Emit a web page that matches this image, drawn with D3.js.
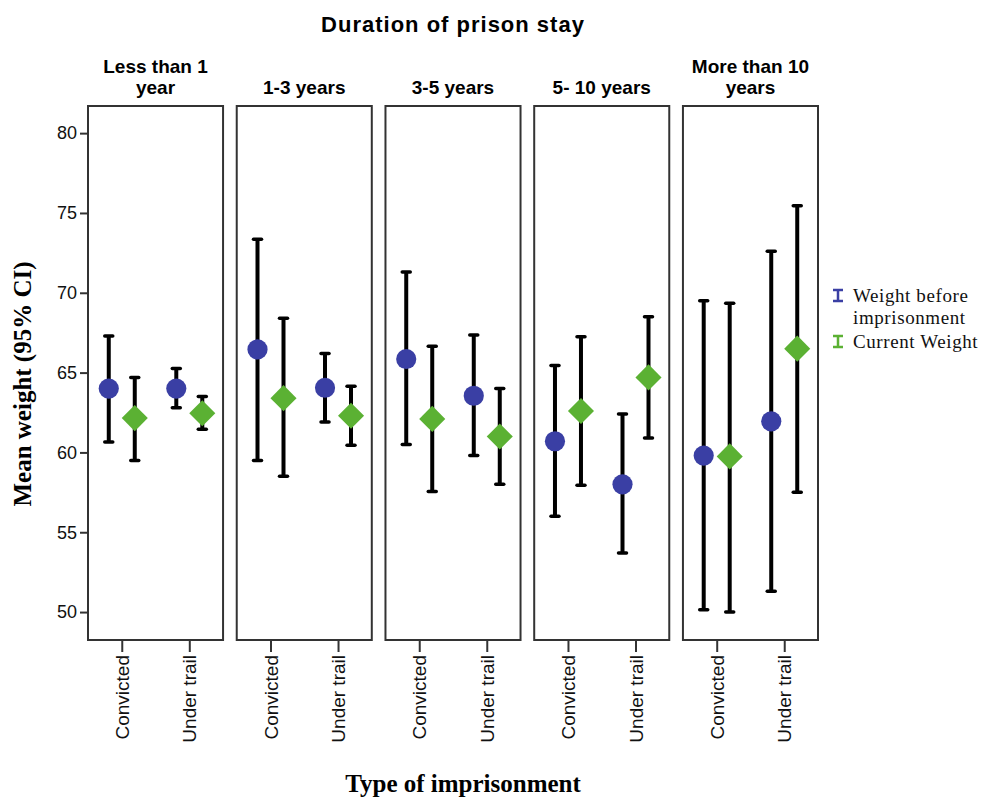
<!DOCTYPE html>
<html>
<head>
<meta charset="utf-8">
<script src="https://cdn.jsdelivr.net/npm/d3@7"></script>
<style>
  body { margin: 0; background: #fff; }
  svg { display: block; }
  .sans { font-family: "Liberation Sans", Arial, sans-serif; }
  .serif { font-family: "Liberation Serif", "Times New Roman", serif; }
  .panel { fill: none; stroke: #333; stroke-width: 2; }
  .bar { stroke: #000; stroke-width: 4; }
  .cap { stroke: #000; stroke-width: 3.5; stroke-linecap: round; }
  .axis .tick line { stroke: #333; stroke-width: 2; }
  .axis .tick text { fill: #111; }
</style>
</head>
<body>
<svg width="993" height="798"></svg>
<script>
const durations = ['Less than 1 year', '1-3 years', '3-5 years', '5- 10 years', 'More than 10 years']
const durationLabels = [['Less than 1', 'year'], ['1-3 years'], ['3-5 years'], ['5- 10 years'], ['More than 10', 'years']]
const types = ['Convicted', 'Under trail']
const seriesNames = ['Weight before imprisonment', 'Current Weight']
const yTicks = [50, 55, 60, 65, 70, 75, 80]

// duration x type order: <1 conv, <1 trail, 1-3 conv, 1-3 trail, ...
const beforeMean = [64.0, 64.0, 66.45, 64.05, 65.85, 63.55, 60.7, 58.0, 59.8, 61.95]
const beforeLow = [60.65, 62.8, 59.5, 61.9, 60.5, 59.8, 56.0, 53.7, 50.15, 51.3]
const beforeHigh = [67.3, 65.25, 73.35, 66.2, 71.3, 67.35, 65.45, 62.4, 69.5, 72.6]
const currentMean = [62.15, 62.45, 63.4, 62.3, 62.1, 61.0, 62.6, 64.7, 59.75, 66.5]
const currentLow = [59.5, 61.45, 58.5, 60.45, 57.55, 58.0, 57.95, 60.9, 50.0, 57.5]
const currentHigh = [64.7, 63.5, 68.4, 64.15, 66.65, 64.0, 67.25, 68.5, 69.35, 75.45]

const colors = ['#3a3fa4', '#5bb133']

const rows = []
durations.forEach((d, i) => types.forEach((t, j) => {
  const k = i * 2 + j
  rows.push({ duration: d, type: t, series: seriesNames[0], mean: beforeMean[k], lo: beforeLow[k], hi: beforeHigh[k] })
  rows.push({ duration: d, type: t, series: seriesNames[1], mean: currentMean[k], lo: currentLow[k], hi: currentHigh[k] })
}))

const svg = d3.select('svg')
const panelTop = 106
const panelBottom = 640

const x0 = d3.scaleBand(durations, [88, 818]).paddingInner(0.092)
const x1 = d3.scalePoint(types, [0, x0.bandwidth()]).padding(0.5)
const x2 = d3.scalePoint(seriesNames, [-13, 13])
const y = d3.scaleLinear([48.25, 81.7], [panelBottom, panelTop])
const color = d3.scaleOrdinal(seriesNames, colors)

// Title
svg.append('text')
  .classed('sans', true)
  .attr('x', 453)
  .attr('y', 32)
  .attr('text-anchor', 'middle')
  .attr('font-size', 22)
  .attr('font-weight', 'bold')
  .attr('letter-spacing', 1)
  .text('Duration of prison stay')

// Panels
const panels = svg.selectAll('g.facet')
  .data(durations)
  .join('g')
  .classed('facet', true)
  .attr('transform', d => `translate(${ x0(d) },0)`)

panels.append('rect')
  .classed('panel', true)
  .attr('x', 0)
  .attr('y', panelTop)
  .attr('width', x0.bandwidth())
  .attr('height', panelBottom - panelTop)

panels.append('text')
  .classed('sans', true)
  .attr('text-anchor', 'middle')
  .attr('font-size', 19)
  .attr('font-weight', 'bold')
  .selectAll('tspan')
  .data((d, i) => durationLabels[i].map((s, j, a) => ({ s, line: j, n: a.length })))
  .join('tspan')
  .attr('x', x0.bandwidth() / 2)
  .attr('y', d => 94 - (d.n - 1 - d.line) * 21)
  .text(d => d.s)

// Error bars
const marks = panels.selectAll('g.mark')
  .data(d => rows.filter(r => r.duration === d))
  .join('g')
  .classed('mark', true)
  .attr('transform', d => `translate(${ x1(d.type) + x2(d.series) },0)`)

marks.append('line')
  .classed('bar', true)
  .attr('x1', 0).attr('x2', 0)
  .attr('y1', d => y(d.lo))
  .attr('y2', d => y(d.hi))

marks.selectAll('line.cap')
  .data(d => [d.lo, d.hi])
  .join('line')
  .classed('cap', true)
  .attr('x1', -4).attr('x2', 4)
  .attr('y1', v => y(v)).attr('y2', v => y(v))

marks.append('path')
  .attr('d', d => d.series === seriesNames[0]
    ? d3.symbol(d3.symbolCircle, 320)()
    : d3.symbol(d3.symbolSquare, 340)())
  .attr('transform', d => `translate(0,${ y(d.mean) })` + (d.series === seriesNames[0] ? '' : ' rotate(45)'))
  .style('fill', d => color(d.series))

// X Axis
panels.append('g')
  .classed('axis', true)
  .attr('transform', `translate(0,${ panelBottom })`)
  .call(d3.axisBottom(x1).tickSize(12))
  .call(g => g.select('.domain').remove())
  .selectAll('.tick text')
  .classed('sans', true)
  .attr('transform', 'rotate(-90)')
  .attr('x', -15)
  .attr('y', 0)
  .attr('dy', '0.35em')
  .style('text-anchor', 'end')
  .style('font-size', '19px')

svg.append('text')
  .classed('serif', true)
  .attr('x', 463)
  .attr('y', 792)
  .attr('text-anchor', 'middle')
  .attr('font-size', 25)
  .attr('font-weight', 'bold')
  .text('Type of imprisonment')

// Y Axis
svg.append('g')
  .classed('axis', true)
  .attr('transform', `translate(${ x0.range()[0] },0)`)
  .call(d3.axisLeft(y).tickValues(yTicks).tickSize(8).tickPadding(3))
  .call(g => g.select('.domain').remove())
  .selectAll('.tick text')
  .classed('sans', true)
  .style('font-size', '18px')

svg.append('text')
  .classed('serif', true)
  .attr('transform', 'translate(31,384) rotate(-90)')
  .attr('text-anchor', 'middle')
  .attr('font-size', 25)
  .attr('font-weight', 'bold')
  .text('Mean weight (95% CI)')

// Legend
const legend = svg.append('g')
  .attr('transform', 'translate(838,0)')
const legendRows = [
  { name: seriesNames[0], lines: ['Weight before', 'imprisonment'], y: 296 },
  { name: seriesNames[1], lines: ['Current Weight'], y: 342 },
]
legendRows.forEach(r => {
  legend.append('path')
    .attr('d', `M-5,${ r.y - 6 }H5M0,${ r.y - 6 }V${ r.y + 5 }M-5,${ r.y + 5 }H5`)
    .style('stroke', color(r.name))
    .style('stroke-width', 2.5)
    .style('fill', 'none')
  legend.append('text')
    .classed('serif', true)
    .attr('font-size', 19)
    .attr('letter-spacing', 0.6)
    .attr('fill', '#111')
    .selectAll('tspan')
    .data(r.lines)
    .join('tspan')
    .attr('x', 15)
    .attr('y', (d, i) => r.y + 6 + i * 22)
    .text(d => d)
})
</script>
</body>
</html>
